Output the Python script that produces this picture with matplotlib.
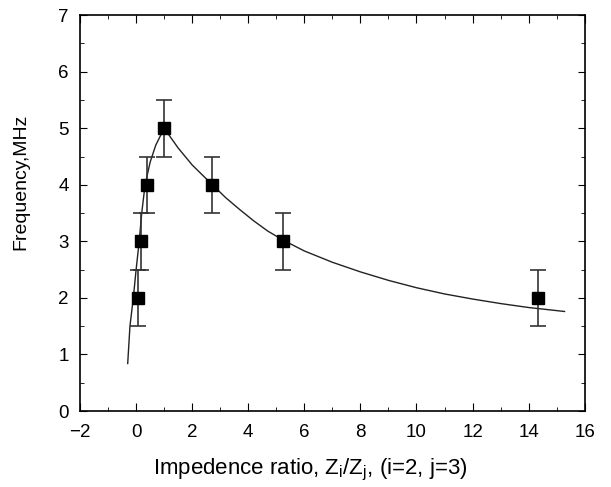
import matplotlib.pyplot as plt
from matplotlib.ticker import MultipleLocator

plt.rcParams['font.family'] = ['Liberation Sans', 'DejaVu Sans']

# measured points
ratio = [0.08, 0.17, 0.38, 0.99, 2.72, 5.25, 14.33]
freq = [2.0, 3.0, 4.0, 5.0, 4.0, 3.0, 2.0]
err = [0.5, 0.5, 0.5, 0.5, 0.5, 0.5, 0.5]

# fitted curve
fit_x = [-0.30, -0.22, -0.10, 0.0, 0.11, 0.2, 0.32, 0.5, 0.7, 1.0,
         1.5, 2.0, 2.72, 3.2, 3.7, 4.2, 4.7, 5.25, 6.0, 7.0, 8.0, 9.0, 10.0,
         11.0, 12.0, 13.0, 14.0, 15.28]
fit_y = [0.84, 1.5, 2.0, 2.5, 3.0, 3.5, 4.0, 4.4, 4.7, 5.0,
         4.65, 4.35, 4.0, 3.77, 3.56, 3.36, 3.18, 3.02, 2.83, 2.63, 2.46, 2.31, 2.18,
         2.07, 1.98, 1.90, 1.83, 1.76]

fig = plt.figure(figsize=(6.11, 4.87), dpi=100)
ax = fig.add_axes([0.131, 0.156, 0.826, 0.813])

ax.plot(fit_x, fit_y, color='#222222', lw=1.0)
ax.errorbar(ratio, freq, yerr=err, fmt='s', color='black', ms=8.5,
            ecolor='#333333', elinewidth=1.2, capsize=6, capthick=1.2)

ax.set_xlim(-2, 16)
ax.set_ylim(0, 7)
ax.xaxis.set_major_locator(MultipleLocator(2))
ax.xaxis.set_minor_locator(MultipleLocator(1))
ax.yaxis.set_major_locator(MultipleLocator(1))
ax.yaxis.set_minor_locator(MultipleLocator(0.5))
ax.tick_params(which='both', direction='in', top=True, right=True, labelsize=13.5)
ax.tick_params(axis='x', which='major', length=6, pad=9)
ax.tick_params(axis='y', which='major', length=5, pad=8)
ax.tick_params(which='minor', length=3)
for s in ax.spines.values():
    s.set_linewidth(1.2)

ax.set_xlabel('Impedence ratio, Z$_\\mathregular{i}$/Z$_\\mathregular{j}$, (i=2, j=3)',
              fontsize=16)
ax.xaxis.set_label_coords(0.457, -0.115)
ax.set_ylabel('Frequency,MHz', fontsize=14)
ax.yaxis.set_label_coords(-0.1, 0.578)

fig.savefig('out.png', dpi=100)
